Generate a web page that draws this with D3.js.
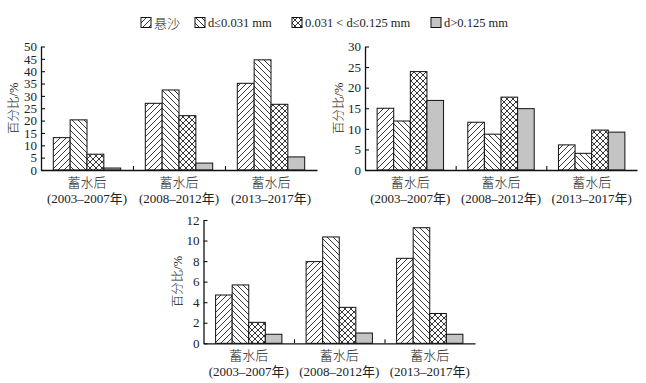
<!DOCTYPE html>
<html>
<head>
<meta charset="utf-8">
<script src="https://cdn.jsdelivr.net/npm/d3@7/dist/d3.min.js"></script>
<style>
  html, body { margin: 0; padding: 0; background: #fff; }
  svg { display: block; }
  text { font-family: "Liberation Serif", "Times New Roman", "Noto Sans CJK SC", serif; fill: #222; }
</style>
</head>
<body>
<svg id="chart" width="646" height="383"></svg>
<script>
// ---------- data ----------
const seriesNames = ["悬沙", "d≤0.031 mm", "0.031 < d≤0.125 mm", "d>0.125 mm"];
const periodTop = ["蓄水后", "蓄水后", "蓄水后"];
const periodBottom = ["(2003–2007年)", "(2008–2012年)", "(2013–2017年)"];
const yTitle = "百分比/%";

// chart A (top-left): values per series, one per period
const chartA_suspended = [13.1, 27.0, 35.1];
const chartA_fine      = [20.3, 32.4, 44.6];
const chartA_medium    = [6.4, 22.0, 26.6];
const chartA_coarse    = [0.8, 2.8, 5.3];
const chartA_ticks = [0, 5, 10, 15, 20, 25, 30, 35, 40, 45, 50];

// chart B (top-right)
const chartB_suspended = [15.0, 11.6, 6.1];
const chartB_fine      = [11.9, 8.7, 4.05];
const chartB_medium    = [23.9, 17.7, 9.7];
const chartB_coarse    = [16.9, 14.9, 9.2];
const chartB_ticks = [0, 5, 10, 15, 20, 25, 30];

// chart C (bottom)
const chartC_suspended = [4.7, 7.95, 8.27];
const chartC_fine      = [5.68, 10.35, 11.25];
const chartC_medium    = [2.04, 3.5, 2.9];
const chartC_coarse    = [0.88, 1.0, 0.88];
const chartC_ticks = [0, 2, 4, 6, 8, 10, 12];

// ---------- drawing ----------
const svg = d3.select("#chart");
const defs = svg.append("defs");
const hatchColor = "#222";

function addPattern(id, d) {
  const p = defs.append("pattern")
    .attr("id", id).attr("patternUnits", "userSpaceOnUse")
    .attr("width", 6).attr("height", 6);
  p.append("rect").attr("width", 6).attr("height", 6).attr("fill", "#fff");
  p.append("path").attr("d", d).attr("stroke", hatchColor)
    .attr("stroke-width", 0.9).attr("fill", "none");
}
addPattern("hatchF", "M0,6 L6,0 M-1,1 L1,-1 M5,7 L7,5");
addPattern("hatchB", "M0,0 L6,6 M-1,5 L1,7 M5,-1 L7,1");
addPattern("hatchX", "M0,6 L6,0 M-1,1 L1,-1 M5,7 L7,5 M0,0 L6,6 M-1,5 L1,7 M5,-1 L7,1");
const fills = ["url(#hatchF)", "url(#hatchB)", "url(#hatchX)", "#c4c4c4"];

const color = d3.scaleOrdinal().domain(seriesNames).range(fills);

function drawChart(cfg) {
  const g = svg.append("g");
  const periods = d3.range(periodTop.length);
  const x = d3.scaleBand().domain(periods).range([cfg.x0, cfg.x1]).paddingInner(0).paddingOuter(0);
  const xs = d3.scaleBand().domain(d3.range(seriesNames.length))
    .range([0, x.bandwidth()]).paddingInner(0).paddingOuter(0.73);
  const y = d3.scaleLinear().domain([0, d3.max(cfg.ticks)]).range([cfg.yBase, cfg.yTop]);

  // bars
  cfg.values.forEach((vals, si) => {
    g.append("g").selectAll("rect").data(vals).join("rect")
      .attr("x", (d, i) => x(i) + xs(si))
      .attr("y", d => y(d))
      .attr("width", xs.bandwidth())
      .attr("height", d => y(0) - y(d))
      .attr("fill", color(seriesNames[si]))
      .attr("stroke", "#111")
      .attr("stroke-width", 1);
  });

  // y axis
  const yAxis = d3.axisLeft(y).tickValues(cfg.ticks).tickSizeInner(-4).tickSizeOuter(0).tickPadding(4)
    .tickFormat(d3.format("d"));
  const ya = g.append("g").attr("transform", `translate(${cfg.x0},0)`).call(yAxis);
  ya.select(".domain").attr("stroke", "#111").attr("stroke-width", 1.3);
  ya.selectAll(".tick line").attr("stroke", "#111").attr("stroke-width", 1.1);
  ya.selectAll(".tick text").attr("font-size", 13).style("fill", "#222")
    .attr("font-family", "Liberation Serif, Times New Roman, serif");

  // x axis line with upward ticks at group boundaries
  const xa = d3.axisBottom(d3.scaleLinear().domain([cfg.x0, cfg.x1]).range([cfg.x0, cfg.x1]))
    .tickValues(periods.slice(1).map(i => x(i)))
    .tickSizeInner(-4).tickSizeOuter(0).tickFormat("");
  const xg = g.append("g").attr("transform", `translate(0,${cfg.yBase})`).call(xa);
  xg.select(".domain").attr("stroke", "#111").attr("stroke-width", 1.3);
  xg.selectAll(".tick line").attr("stroke", "#111").attr("stroke-width", 1.1);

  // category labels
  const labs = g.append("g").selectAll("g").data(periods).join("g")
    .attr("transform", i => `translate(${x(i) + x.bandwidth() / 2},${cfg.yBase})`);
  labs.append("text").attr("text-anchor", "middle").attr("y", 17)
    .attr("font-size", 13).attr("font-family", "Noto Sans CJK SC, sans-serif")
    .attr("font-weight", 300)
    .text(i => periodTop[i]);
  labs.append("text").attr("text-anchor", "middle").attr("y", 33)
    .attr("font-size", 13)
    .text(i => periodBottom[i]);

  // y title
  g.append("text")
    .attr("transform", `translate(${cfg.titleX},${(cfg.yBase + cfg.yTop) / 2}) rotate(-90)`)
    .attr("text-anchor", "middle").attr("dy", "0.35em")
    .attr("font-size", 12.5).attr("font-weight", 300)
    .text(yTitle);
}

drawChart({
  x0: 41, x1: 317, yBase: 170, yTop: 46.5, ticks: chartA_ticks, titleX: 13.5,
  values: [chartA_suspended, chartA_fine, chartA_medium, chartA_coarse]
});
drawChart({
  x0: 365, x1: 637, yBase: 170, yTop: 46.5, ticks: chartB_ticks, titleX: 339,
  values: [chartB_suspended, chartB_fine, chartB_medium, chartB_coarse]
});
drawChart({
  x0: 203.5, x1: 475, yBase: 343.3, yTop: 220, ticks: chartC_ticks, titleX: 178,
  values: [chartC_suspended, chartC_fine, chartC_medium, chartC_coarse]
});

// legend
const legendX = [141, 195, 292, 431];
const leg = svg.append("g").selectAll("g").data(seriesNames).join("g")
  .attr("transform", (d, i) => `translate(${legendX[i]},23)`);
leg.append("rect").attr("x", 0).attr("y", -5.5).attr("width", 10).attr("height", 10)
  .attr("fill", d => color(d)).attr("stroke", "#111").attr("stroke-width", 1);
leg.append("text").attr("x", 13).attr("dy", "0.35em")
  .attr("font-size", (d, i) => i === 0 ? 13 : 12.5)
  .attr("font-weight", (d, i) => i === 0 ? 300 : 400)
  .text(d => d);
</script>
</body>
</html>
